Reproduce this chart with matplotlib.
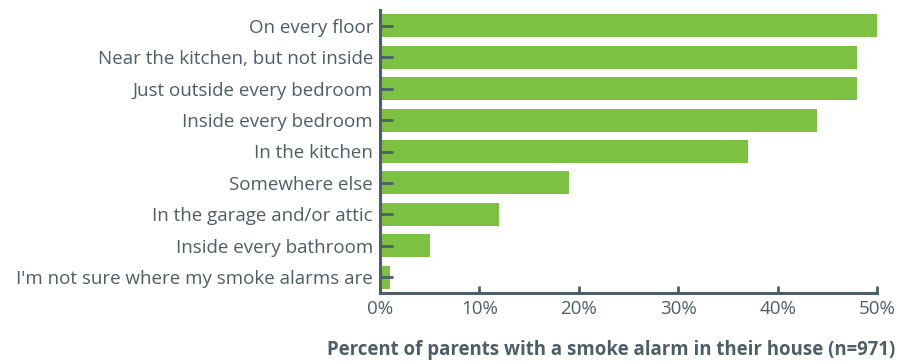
import matplotlib.pyplot as plt

plt.rcParams['font.family'] = ['Open Sans', 'DejaVu Sans']

locations = [
    "On every floor",
    "Near the kitchen, but not inside",
    "Just outside every bedroom",
    "Inside every bedroom",
    "In the kitchen",
    "Somewhere else",
    "In the garage and/or attic",
    "Inside every bathroom",
    "I'm not sure where my smoke alarms are",
]
percent = [50, 48, 48, 44, 37, 19, 12, 5, 1]
xticks = [0, 10, 20, 30, 40, 50]

green = "#7dc142"
slate = "#4e5d66"

fig = plt.figure(figsize=(9.11, 3.62), dpi=100)
ax = fig.add_axes([380 / 911, 1 - 293 / 362, (877 - 380) / 911, 283 / 362])

ypos = range(len(locations))
ax.barh(ypos, percent, height=0.73, color=green, zorder=1)

ax.set_ylim(len(locations) - 0.5, -0.5)
ax.set_xlim(0, 50)
ax.set_yticks(list(ypos))
ax.set_yticklabels(locations)
ax.set_xticks(xticks)
ax.set_xticklabels([f"{t}%" for t in xticks])

for side in ("top", "right"):
    ax.spines[side].set_visible(False)
for side in ("left", "bottom"):
    ax.spines[side].set_color(slate)
    ax.spines[side].set_linewidth(2.2)
    ax.spines[side].set_zorder(3)

ax.tick_params(axis="y", direction="in", length=9, width=2, color=slate,
               labelcolor=slate, labelsize=13.5, pad=5)
ax.tick_params(axis="x", direction="in", length=5, width=2, color=slate,
               labelcolor=slate, labelsize=13.5, pad=5)
for t in ax.yaxis.get_major_ticks():
    t.tick1line.set_zorder(4)

fig.text(895 / 911, 1 - 350 / 362, "Percent of parents with a smoke alarm in their house (n=971)",
         ha="right", va="center", fontsize=13.4, fontweight="bold", color=slate)

fig.savefig("out.png", dpi=100)
